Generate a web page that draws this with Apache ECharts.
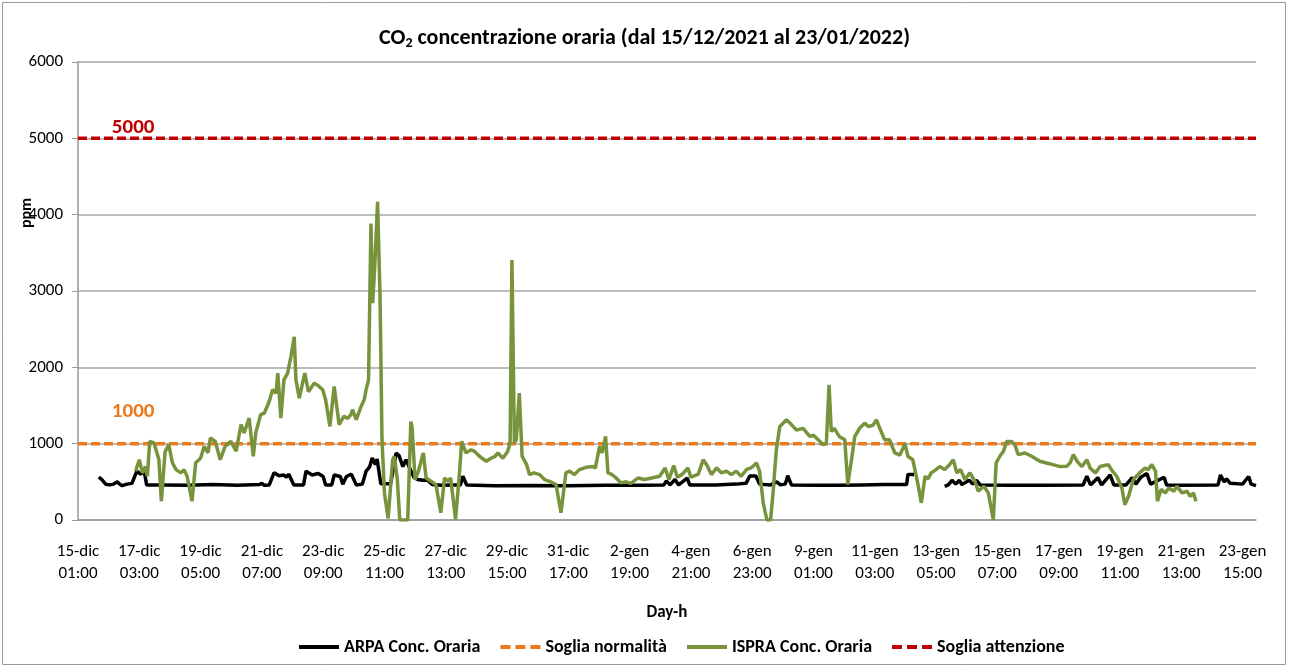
<!DOCTYPE html>
<html>
<head>
<meta charset="utf-8">
<script src="https://cdn.jsdelivr.net/npm/echarts@6/dist/echarts.min.js"></script>
<style>
  html, body { margin: 0; padding: 0; background: #fff; }
  #chart { width: 1289px; height: 668px; }
</style>
</head>
<body>
<div id="chart"></div>
<script>
// hours counted from 15-dic-2021 01:00
const xMin = 0;
const xMax = 961;
const labelStep = 50;
const months = ['gen', 'feb', 'mar', 'apr', 'mag', 'giu', 'lug', 'ago', 'set', 'ott', 'nov', 'dic'];
const startTime = Date.UTC(2021, 11, 15, 1);

const sogliaNormalita = 1000;
const sogliaAttenzione = 5000;

// ARPA hourly concentration [hour, ppm]; null = missing data
const arpa = [
  [17, 564], [20, 520], [22.6, 468], [26, 460], [29, 470], [32, 500], [34, 470], [36, 450], [40, 470], [44, 480],
  [48, 640], [51, 600], [54, 640], [56, 460], [70, 460], [90, 455], [110, 465], [130, 455], [148, 465], [150, 480],
  [152, 455], [156, 460], [160, 620], [164, 580], [168, 590], [170, 560], [172, 600], [176, 460], [184, 460], [186, 640],
  [191, 590], [196, 610], [200, 570], [202, 460], [207, 460], [209, 590], [214, 570], [216, 470], [219, 570], [223, 600],
  [227, 460], [229.5, 464], [232, 470], [235, 638], [238, 700], [240, 813], [242.6, 727], [244, 800], [247, 475], [255, 475],
  [258, 730], [259.5, 878], [262, 840], [265, 700], [267.6, 790], [271.7, 638], [274, 560], [277, 530], [281, 520], [285, 525],
  [289, 464], [296, 455], [305, 460], [312, 460], [314, 573], [317, 460], [340, 450], [370, 452], [400, 448], [430, 455],
  [460, 455], [478, 460], [480, 512], [483, 460], [487, 530], [490, 460], [497, 550], [499, 460], [520, 460], [537, 470],
  [545, 480], [548, 577], [553, 577], [556, 470], [565, 460], [570, 500], [573, 460], [577, 470], [579, 580], [582, 460],
  [600, 455], [620, 455], [640, 460], [657, 464], [676, 464], [677, 595], [682, 595], [694, null],
  [707, 440], [710, 460], [713, 520], [716, 470], [719, 520], [721, 465], [727, 520], [730, 470], [733, 520], [736, 460],
  [760, 455], [790, 455], [820, 460], [823, 573], [826, 460], [832, 555], [835, 460], [842, 590], [845, 460], [855, 460],
  [860, 555], [863, 470], [867, 560], [872, 608], [875, 470], [886, 560], [888, 460], [900, 455], [930, 460], [932, 590],
  [935, 500], [937, 540], [940, 480], [950, 470], [955, 570], [957, 470], [961, 450]
];

// ISPRA hourly concentration [hour, ppm]
const ispra = [
  [47, 640], [50, 790], [52.5, 617], [55, 700], [56.6, 573], [58.5, 1030], [62, 1010], [64, 900], [66, 790], [68, 246],
  [71, 890], [74, 990], [77, 750], [80, 660], [84, 617], [86.5, 660], [89, 573], [93, 246], [96, 750], [100, 810],
  [103, 965], [106, 880], [108, 1075], [112, 1030], [116, 790], [120, 965], [124.7, 1030], [129, 900], [133, 1250], [135.5, 1140],
  [139.6, 1335], [143, 835], [145, 1140], [149, 1380], [152, 1400], [156, 1553], [158.7, 1705], [161.5, 1660], [163, 1924], [165.5, 1335],
  [168, 1836], [171, 1924], [173.7, 2140], [176.4, 2400], [177.8, 1836], [180.5, 1596], [185, 1924], [188, 1680], [192.7, 1793], [196, 1760],
  [199.6, 1705], [202, 1575], [205.5, 1226], [209, 1750], [213, 1250], [217, 1360], [220, 1330], [222.7, 1380], [224, 1445], [227, 1315],
  [231, 1490], [233.5, 1575], [235, 1705], [237, 1836], [239, 3884], [240.4, 2840], [242, 3300], [244.4, 4167], [246.4, 2925], [248, 1052],
  [250, 355], [253, 20], [256.7, 790], [258, 835], [260.5, 530], [262.5, 0], [269, 0], [271.5, 1290], [272.5, 1220], [275, 530],
  [277.7, 638], [281.7, 878], [284, 550], [288, 507], [292, 464], [296, 94], [299, 550], [302, 507], [304, 550], [308, 10],
  [311, 575], [313, 1030], [316.5, 880], [320.7, 920], [323.4, 900], [327.5, 835], [333, 770], [337, 810], [340, 830], [342.5, 878],
  [346.6, 810], [350.6, 900], [352.5, 1010], [354, 3405], [356, 1010], [357.6, 1052], [360, 1663], [362.3, 835], [366, 725], [368.3, 595],
  [372, 617], [376.5, 595], [380.6, 530], [384.6, 507], [390, 465], [394, 94], [398, 617], [401, 640], [405, 595], [409, 660],
  [414.6, 690], [420, 700], [422, 680], [425.5, 965], [427.6, 880], [430.4, 1095], [432.3, 617], [435, 600], [439, 551], [443, 486],
  [447, 500], [451, 480], [457, 551], [462, 530], [468, 551], [474.5, 573], [479, 682], [482, 530], [486, 712], [489, 560],
  [492.6, 595], [497.6, 682], [500, 560], [506, 600], [510, 790], [513, 720], [516.7, 595], [521, 682], [525, 617], [529, 640],
  [533, 595], [537, 640], [541, 573], [545.5, 662], [549, 682], [553.5, 747], [556, 640], [559, 225], [562, 0], [565, 0],
  [567, 355], [569.7, 921], [572.5, 1226], [578, 1313], [582, 1250], [586, 1180], [591.5, 1200], [597, 1095], [600, 1110], [603.8, 1052],
  [608, 987], [610.5, 1000], [612.7, 1770], [614.5, 1160], [617, 1200], [621, 1095], [625.5, 1052], [628, 464], [631, 790], [633.7, 1095],
  [637.8, 1205], [642, 1270], [644.5, 1226], [648.5, 1240], [651.4, 1313], [654, 1205], [658, 1052], [662, 1052], [666.4, 878], [670.5, 850],
  [674.6, 1000], [677, 835], [681, 790], [685, 486], [688, 225], [691, 573], [693.6, 540], [696, 617], [700, 660], [703, 700],
  [707, 660], [711, 725], [714, 790], [717, 617], [720, 660], [723.5, 530], [727.6, 617], [731.7, 508], [734.4, 377], [739, 443],
  [742.6, 355], [746.7, 0], [749, 747], [752, 835], [755, 900], [757.6, 1030], [761.6, 1030], [764.4, 980], [767, 856], [772.5, 878],
  [778, 835], [784.7, 770], [790, 747], [795.6, 725], [801, 700], [806.6, 705], [809.3, 747], [812, 856], [815, 770], [819, 700],
  [823, 790], [825.6, 682], [830, 617], [833.8, 700], [840.5, 725], [843, 660], [847.4, 573], [851.6, 420], [854, 200], [857, 311],
  [861, 530], [866, 617], [870.5, 682], [873, 660], [876, 725], [879, 640], [880.6, 246], [883.5, 400], [887, 355], [890, 420],
  [894, 377], [896.5, 443], [900.6, 355], [904.7, 377], [907.3, 311], [910, 355], [912, 246]
];

const FONT = 'Carlito, "Liberation Sans Narrow", "Liberation Sans", sans-serif';

// legend icons: solid bar and three dashes
const solidIcon = 'path://M0,0h40v4h-40z';
const dashIcon = 'path://M0,0h10v4h-10z M15,0h10v4h-10z M30,0h10v4h-10z';

function hourLabel(h) {
  if (h % labelStep !== 0) return '';
  const d = new Date(startTime + h * 3600 * 1000);
  const hh = String(d.getUTCHours()).padStart(2, '0');
  return d.getUTCDate() + '-' + months[d.getUTCMonth()] + '\n' + hh + ':00';
}

const chart = echarts.init(document.getElementById('chart'));

chart.setOption({
  animation: false,
  backgroundColor: '#fff',
  title: {
    text: 'CO{sub|2} concentrazione oraria (dal 15/12/2021 al 23/01/2022)',
    left: 'center',
    top: 22,
    textStyle: {
      fontFamily: FONT, fontSize: 22, fontWeight: 'bold', color: '#000',
      rich: {
        sub: { fontFamily: FONT, fontSize: 14, fontWeight: 'bold', color: '#000', verticalAlign: 'bottom', padding: [9, 0, 0, 0] }
      }
    }
  },
  legend: {
    top: 633,
    left: 294,
    itemWidth: 40,
    itemHeight: 4,
    itemGap: 20,
    data: [
      { name: 'ARPA Conc. Oraria', icon: solidIcon },
      { name: 'Soglia normalità', icon: dashIcon },
      { name: 'ISPRA Conc. Oraria', icon: solidIcon },
      { name: 'Soglia attenzione', icon: dashIcon }
    ],
    textStyle: { fontFamily: FONT, fontSize: 18, fontWeight: 'bold', color: '#000' }
  },
  grid: { left: 78, right: 33, top: 62, bottom: 148 },
  xAxis: {
    type: 'value',
    min: xMin,
    max: xMax,
    interval: labelStep,
    name: 'Day-h',
    nameLocation: 'middle',
    nameGap: 84,
    nameTextStyle: { fontFamily: FONT, fontSize: 17, fontWeight: 'bold', color: '#000' },
    axisLine: { show: true, lineStyle: { color: '#999', width: 1.5 } },
    axisTick: { show: false },
    splitLine: { show: false },
    axisLabel: {
      formatter: hourLabel,
      fontFamily: FONT, fontSize: 17, color: '#000',
      lineHeight: 22, margin: 21,
      showMaxLabel: false
    }
  },
  yAxis: {
    type: 'value',
    min: 0,
    max: 6000,
    interval: 1000,
    axisLine: { show: true, lineStyle: { color: '#999', width: 1.5 } },
    axisTick: { show: true, length: 6, lineStyle: { color: '#999' } },
    splitLine: { lineStyle: { color: '#a6a6a6', width: 1.5 } },
    axisLabel: { fontFamily: FONT, fontSize: 17, color: '#000', margin: 15, formatter: v => String(v) }
  },
  graphic: [
    {
      type: 'rect',
      shape: { x: 2.5, y: 2.5, width: 1283, height: 662 },
      style: { fill: null, stroke: '#9a9a9a', lineWidth: 1 },
      silent: true
    },
    {
      type: 'text',
      x: 27, y: 213,
      rotation: Math.PI / 2,
      style: {
        text: 'ppm', fontFamily: FONT, fontSize: 16, fontWeight: 'bold',
        fill: '#000', align: 'center', verticalAlign: 'middle'
      }
    }
  ],
  series: [
    {
      name: 'ARPA Conc. Oraria',
      type: 'line',
      data: arpa,
      symbol: 'none',
      connectNulls: false,
      lineStyle: { color: '#000', width: 3.5 },
      itemStyle: { color: '#000' },
      z: 2
    },
    {
      name: 'Soglia normalità',
      type: 'line',
      data: [[xMin, sogliaNormalita], [xMax, sogliaNormalita]],
      symbol: 'none',
      lineStyle: { color: '#ec7a1c', width: 3.5, type: [9, 4] },
      itemStyle: { color: '#ec7a1c' },
      markPoint: {
        symbol: 'circle', symbolSize: 0,
        data: [{ coord: [45, sogliaNormalita], value: sogliaNormalita }],
        label: {
          show: true, formatter: '{c}', offset: [0, -32],
          fontFamily: FONT, fontSize: 21, fontWeight: 'bold', color: '#ec7a1c'
        }
      },
      z: 3
    },
    {
      name: 'ISPRA Conc. Oraria',
      type: 'line',
      data: ispra,
      symbol: 'none',
      lineStyle: { color: '#77933c', width: 3.5 },
      itemStyle: { color: '#77933c' },
      z: 4
    },
    {
      name: 'Soglia attenzione',
      type: 'line',
      data: [[xMin, sogliaAttenzione], [xMax, sogliaAttenzione]],
      symbol: 'none',
      lineStyle: { color: '#c00000', width: 3.5, type: [9, 4] },
      itemStyle: { color: '#c00000' },
      markPoint: {
        symbol: 'circle', symbolSize: 0,
        data: [{ coord: [45, sogliaAttenzione], value: sogliaAttenzione }],
        label: {
          show: true, formatter: '{c}', offset: [0, -11],
          fontFamily: FONT, fontSize: 21, fontWeight: 'bold', color: '#c00000'
        }
      },
      z: 3
    }
  ]
});
</script>
</body>
</html>
